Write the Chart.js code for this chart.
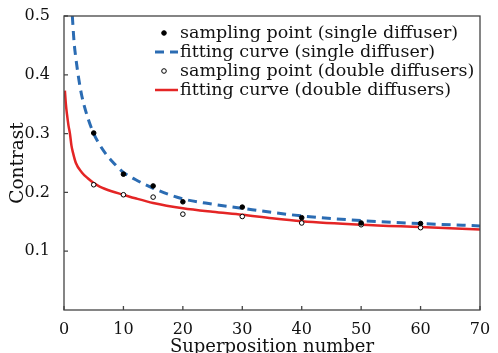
<!DOCTYPE html>
<html>
<head>
<meta charset="utf-8">
<script src="https://cdn.jsdelivr.net/npm/chart.js@4.4.0/dist/chart.umd.min.js"></script>
<style>
  html, body { margin: 0; padding: 0; background: #fff; }
  #wrap { width: 498px; height: 353px; }
</style>
</head>
<body>
<div id="wrap"><canvas id="chart"></canvas></div>
<script>
// measured contrast at each superposition number
const sampleX = [5, 10, 15, 20, 30, 40, 50, 60];
const singlePoints = [0.301, 0.231, 0.211, 0.184, 0.175, 0.157, 0.148, 0.147];
const doublePoints = [0.213, 0.196, 0.192, 0.163, 0.159, 0.148, 0.145, 0.140];

// fitted curves
const singleFitX = [1.4, 1.7, 2, 2.5, 3, 4, 5, 6, 7, 8, 10, 12, 15, 20, 25, 30, 35, 40, 50, 60, 70];
const singleFitY = [0.50, 0.455, 0.428, 0.392, 0.364, 0.327, 0.300, 0.281, 0.266, 0.254, 0.234, 0.222, 0.207, 0.189, 0.180, 0.173, 0.166, 0.160, 0.152, 0.147, 0.143];
const doubleFitX = [0.15, 0.3, 0.5, 0.75, 1, 1.25, 1.5, 2, 3, 4, 5, 6, 8, 10, 12, 15, 20, 25, 30, 35, 40, 50, 60, 70];
const doubleFitY = [0.373, 0.352, 0.333, 0.314, 0.300, 0.280, 0.268, 0.250, 0.234, 0.224, 0.216, 0.210, 0.202, 0.196, 0.190, 0.182, 0.173, 0.167, 0.162, 0.156, 0.151, 0.145, 0.141, 0.137];

const labels = [
  'sampling point (single diffuser)',
  'fitting curve (single diffuser)',
  'sampling point (double diffusers)',
  'fitting curve (double diffusers)'
];

const xTicks = [0, 10, 20, 30, 40, 50, 60, 70];
const yTicks = [0.1, 0.2, 0.3, 0.4, 0.5];

const FONT = '"DejaVu Serif", serif';
const INK = '#111';
const FRAME = '#444';

function pairs(xs, ys) {
  return xs.map((x, i) => ({ x: x, y: ys[i] }));
}

// box around the plot, inward tick marks and the legend inside the plot
const framePlugin = {
  id: 'frame',
  afterDraw(chart) {
    const { ctx, chartArea: a, scales } = chart;
    ctx.save();
    ctx.strokeStyle = FRAME;
    ctx.lineWidth = 1.3;
    ctx.strokeRect(a.left, a.top, a.right - a.left, a.bottom - a.top);
    ctx.beginPath();
    xTicks.forEach(v => {
      const px = scales.x.getPixelForValue(v);
      ctx.moveTo(px, a.bottom);
      ctx.lineTo(px, a.bottom - 4);
    });
    yTicks.forEach(v => {
      const py = scales.y.getPixelForValue(v);
      ctx.moveTo(a.left, py);
      ctx.lineTo(a.left + 4, py);
    });
    ctx.stroke();

    ctx.font = '17.5px ' + FONT;
    ctx.textBaseline = 'middle';
    ctx.fillStyle = INK;
    chart.data.datasets.forEach((ds, i) => {
      const y = 33 + i * 19;
      ctx.save();
      if (ds.showLine) {
        ctx.strokeStyle = ds.borderColor;
        ctx.lineWidth = ds.borderWidth;
        ctx.setLineDash(ds.borderDash || []);
        ctx.beginPath();
        ctx.moveTo(155, y);
        ctx.lineTo(178, y);
        ctx.stroke();
      } else {
        ctx.beginPath();
        ctx.arc(164, y, ds.pointRadius, 0, Math.PI * 2);
        ctx.fillStyle = ds.pointBackgroundColor;
        ctx.fill();
        ctx.strokeStyle = ds.pointBorderColor;
        ctx.lineWidth = ds.pointBorderWidth;
        ctx.stroke();
      }
      ctx.restore();
      ctx.fillText(ds.label, 180, y);
    });
    ctx.restore();
  }
};

new Chart(document.getElementById('chart'), {
  type: 'scatter',
  data: {
    datasets: [
      {
        label: labels[0],
        data: pairs(sampleX, singlePoints),
        showLine: false,
        pointRadius: 2.3,
        pointBackgroundColor: '#000',
        pointBorderColor: '#000',
        pointBorderWidth: 1,
        order: 0
      },
      {
        label: labels[1],
        data: pairs(singleFitX, singleFitY),
        showLine: true,
        borderColor: '#2b6cb3',
        borderWidth: 3,
        borderDash: [9, 6],
        pointRadius: 0,
        cubicInterpolationMode: 'monotone',
        order: 2
      },
      {
        label: labels[2],
        data: pairs(sampleX, doublePoints),
        showLine: false,
        pointRadius: 2.3,
        pointBackgroundColor: '#fff',
        pointBorderColor: '#000',
        pointBorderWidth: 1,
        order: 1
      },
      {
        label: labels[3],
        data: pairs(doubleFitX, doubleFitY),
        showLine: true,
        borderColor: '#e42525',
        borderWidth: 2.5,
        pointRadius: 0,
        cubicInterpolationMode: 'monotone',
        order: 3
      }
    ]
  },
  options: {
    responsive: true,
    maintainAspectRatio: false,
    animation: false,
    layout: { padding: { top: 16, right: 18, bottom: 0, left: 0 } },
    plugins: {
      legend: { display: false },
      tooltip: { enabled: false }
    },
    scales: {
      x: {
        type: 'linear',
        min: 0,
        max: 70,
        afterFit: s => { s.height = 43; },
        afterBuildTicks: s => { s.ticks = xTicks.map(v => ({ value: v })); },
        grid: { display: false },
        border: { display: false },
        ticks: { color: INK, font: { family: FONT, size: 16 }, padding: 2, maxRotation: 0 },
        title: {
          display: true,
          text: 'Superposition number',
          color: INK,
          font: { family: FONT, size: 18, lineHeight: 1 },
          padding: { top: 0, bottom: -3 }
        }
      },
      y: {
        min: 0,
        max: 0.5,
        afterFit: s => { s.width = 64; },
        afterBuildTicks: s => { s.ticks = yTicks.map(v => ({ value: v })); },
        grid: { display: false },
        border: { display: false },
        ticks: {
          color: INK,
          font: { family: FONT, size: 16 },
          padding: 6,
          callback: v => v.toFixed(1)
        },
        title: {
          display: true,
          text: 'Contrast',
          color: INK,
          font: { family: FONT, size: 18.5, lineHeight: 1 },
          padding: { top: 9, bottom: 0 }
        }
      }
    }
  },
  plugins: [framePlugin]
});
</script>
</body>
</html>
